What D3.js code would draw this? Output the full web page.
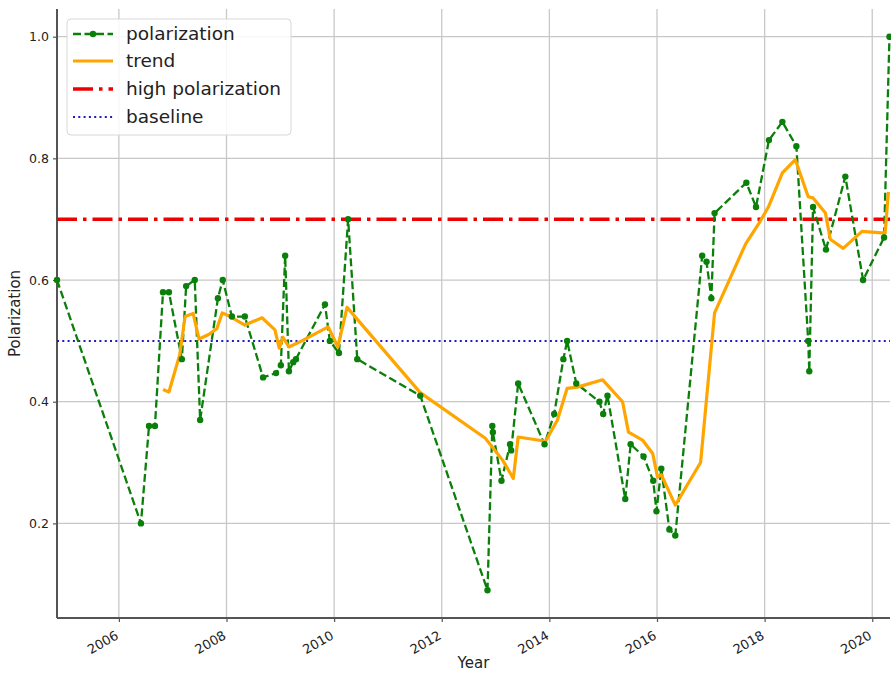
<!DOCTYPE html>
<html><head><meta charset="utf-8">
<script src="https://cdn.jsdelivr.net/npm/d3@7"></script>
<style>body{margin:0;background:#fff;} svg{display:block;font-family:"DejaVu Sans",sans-serif;}</style>
</head><body>
<svg id="c" width="891" height="673"></svg>
<script>
// Data (decimal years)
const polYears = [2004.85,2006.41,2006.56,2006.67,2006.82,2006.93,2007.17,2007.25,2007.41,2007.51,2007.84,2007.93,2008.10,2008.34,2008.68,2008.92,2009.01,2009.09,2009.16,2009.24,2009.29,2009.83,2009.92,2010.09,2010.26,2010.43,2011.60,2012.85,2012.94,2012.95,2013.11,2013.27,2013.29,2013.42,2013.91,2014.09,2014.26,2014.33,2014.50,2014.93,2015.00,2015.08,2015.41,2015.51,2015.75,2015.93,2015.99,2016.08,2016.23,2016.34,2016.84,2016.92,2017.01,2017.07,2017.66,2017.84,2018.08,2018.33,2018.59,2018.81,2018.83,2018.90,2019.14,2019.50,2019.83,2020.22,2020.32];
const polValues = [0.60,0.20,0.36,0.36,0.58,0.58,0.47,0.59,0.60,0.37,0.57,0.60,0.54,0.54,0.44,0.447,0.46,0.64,0.45,0.465,0.47,0.56,0.50,0.48,0.70,0.47,0.41,0.09,0.36,0.35,0.27,0.33,0.32,0.43,0.33,0.38,0.47,0.50,0.43,0.40,0.38,0.41,0.24,0.33,0.31,0.27,0.22,0.29,0.19,0.18,0.64,0.63,0.57,0.71,0.76,0.72,0.83,0.86,0.82,0.50,0.45,0.72,0.65,0.77,0.60,0.67,1.00];
const trendYears = [2006.82,2006.93,2007.13,2007.23,2007.38,2007.49,2007.66,2007.82,2007.92,2008.07,2008.34,2008.66,2008.90,2008.98,2009.05,2009.16,2009.40,2009.89,2010.07,2010.24,2011.60,2012.81,2013.13,2013.33,2013.42,2013.93,2014.15,2014.33,2014.52,2014.99,2015.36,2015.47,2015.73,2015.92,2016.01,2016.08,2016.34,2016.81,2017.07,2017.65,2017.90,2018.07,2018.33,2018.57,2018.81,2018.90,2019.13,2019.22,2019.46,2019.81,2020.24,2020.30];
const trendValues = [0.42,0.416,0.477,0.54,0.545,0.503,0.51,0.52,0.546,0.54,0.526,0.538,0.518,0.488,0.506,0.49,0.50,0.523,0.49,0.555,0.415,0.34,0.304,0.274,0.342,0.335,0.37,0.422,0.424,0.436,0.40,0.35,0.337,0.315,0.276,0.28,0.23,0.30,0.546,0.66,0.694,0.72,0.776,0.798,0.737,0.735,0.71,0.667,0.652,0.68,0.677,0.745];
const highLevel = 0.7;
const baseLevel = 0.5;
const xTicks = [2006,2008,2010,2012,2014,2016,2018,2020];
const yTicks = [0.2,0.4,0.6,0.8,1.0];
const legendLabels = ["polarization","trend","high polarization","baseline"];

const svg = d3.select("#c");
const L = 57, R = 890, T = 9, B = 618;
const x = d3.scaleLinear().domain([2004.85, 2020.33]).range([L, R]);
const y = d3.scaleLinear().domain([0.0445, 1.0455]).range([B, T]);

// grid
const g = svg.append("g");
g.selectAll(".gx").data(xTicks).enter().append("line")
  .attr("x1", d=>x(d)).attr("x2", d=>x(d)).attr("y1", T).attr("y2", B)
  .attr("stroke", "#c8c8c8").attr("stroke-width", 1.3);
g.selectAll(".gy").data(yTicks).enter().append("line")
  .attr("x1", L).attr("x2", R).attr("y1", d=>y(d)).attr("y2", d=>y(d))
  .attr("stroke", "#c8c8c8").attr("stroke-width", 1.3);

// axes
const xAxis = d3.axisBottom(x).tickValues(xTicks).tickFormat(d3.format("d")).tickSize(4).tickPadding(3);
const yAxis = d3.axisLeft(y).tickValues(yTicks).tickFormat(d3.format(".1f")).tickSize(4).tickPadding(4);
const gx = svg.append("g").attr("transform", `translate(0,${B})`).call(xAxis);
const gy = svg.append("g").attr("transform", `translate(${L},0)`).call(yAxis);
[gx, gy].forEach(a => {
  a.select(".domain").attr("stroke", "#555").attr("stroke-width", 2);
  a.selectAll(".tick line").attr("stroke", "#555").attr("stroke-width", 1.2);
  a.selectAll("text").attr("fill", "#222").attr("font-size", 12.5).attr("font-family", "DejaVu Sans");
});
gy.select(".domain").attr("d", `M0,${T}V${B}`);
gx.select(".domain").attr("d", `M${L},0H${R}`);
gx.selectAll(".tick text")
  .attr("font-size", 13)
  .attr("text-anchor", "end")
  .attr("dy", null).attr("y", 0)
  .attr("transform", "translate(0,20) rotate(-30)");

// lines
const pts = polYears.map((d,i)=>[d, polValues[i]]);
const tpts = trendYears.map((d,i)=>[d, trendValues[i]]);
const line = d3.line().x(d=>x(d[0])).y(d=>y(d[1]));

svg.append("line").attr("x1", L).attr("x2", R).attr("y1", y(highLevel)).attr("y2", y(highLevel))
  .attr("stroke", "#ee0000").attr("stroke-width", 3.6).attr("stroke-dasharray", "20,6,3.5,6");
svg.append("line").attr("x1", L).attr("x2", R).attr("y1", y(baseLevel)).attr("y2", y(baseLevel))
  .attr("stroke", "#1c1cc0").attr("stroke-width", 2).attr("stroke-dasharray", "2,3.3");

svg.append("path").datum(pts).attr("d", line).attr("fill", "none")
  .attr("stroke", "#0a800a").attr("stroke-width", 2.3).attr("stroke-dasharray", "8,3.5");
svg.append("path").datum(tpts).attr("d", line).attr("fill", "none")
  .attr("stroke", "#ffa500").attr("stroke-width", 3.2).attr("stroke-linejoin", "round");
svg.selectAll(".pt").data(pts).enter().append("circle")
  .attr("cx", d=>x(d[0])).attr("cy", d=>y(d[1])).attr("r", 3.2).attr("fill", "#0a800a");

// axis labels
svg.append("text").attr("x", (L+R)/2).attr("y", 668).attr("text-anchor", "middle")
  .attr("font-size", 15).attr("fill", "#222").text("Year");
svg.append("text").attr("transform", `translate(20,${(T+B)/2}) rotate(-90)`).attr("text-anchor", "middle")
  .attr("font-size", 15).attr("fill", "#222").text("Polarization");

// legend
const lg = svg.append("g");
lg.append("rect").attr("x", 67).attr("y", 19).attr("width", 224).attr("height", 116).attr("rx", 4)
  .attr("fill", "#fff").attr("fill-opacity", 0.85).attr("stroke", "#d8d8d8");
const ly = [34, 61, 89, 117];
const styles = [
  {c:"#0a800a", w:2.3, da:"8,3.5"},
  {c:"#ffa500", w:3.2, da:null},
  {c:"#ee0000", w:3.6, da:"20,6,3.5,6"},
  {c:"#1c1cc0", w:2, da:"2,3.3"}
];
legendLabels.forEach((t,i)=>{
  const s = styles[i];
  const ln = lg.append("line").attr("x1", 73).attr("x2", 113).attr("y1", ly[i]).attr("y2", ly[i])
    .attr("stroke", s.c).attr("stroke-width", s.w);
  if (s.da) ln.attr("stroke-dasharray", s.da);
  if (i===0) lg.append("circle").attr("cx", 93).attr("cy", ly[i]).attr("r", 3.2).attr("fill", s.c);
  lg.append("text").attr("x", 126).attr("y", ly[i]).attr("dy", "0.35em").attr("font-size", 18.5)
    .attr("fill", "#222").text(t);
});
</script>
</body></html>
